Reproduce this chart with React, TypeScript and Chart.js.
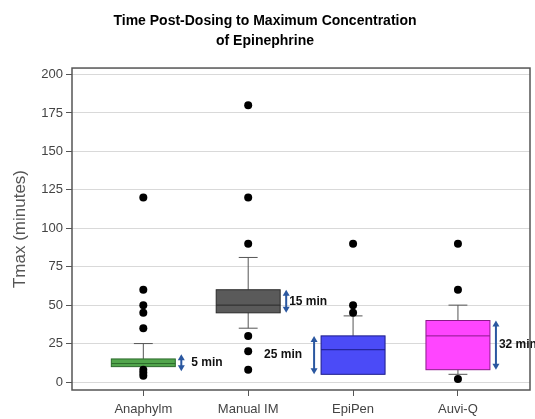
import React, { useEffect, useRef } from "react";
import { Chart, registerables } from "chart.js";

Chart.register(...registerables);

// ---- data ----
const titleLines = ["Time Post-Dosing to Maximum Concentration", "of Epinephrine"];
const yAxisTitle = "Tmax (minutes)";
const categories = ["Anaphylm", "Manual IM", "EpiPen", "Auvi-Q"];
const whiskerLow = [10, 35, 5, 5];
const q1 = [10, 45, 5, 8];
const median = [12, 50, 21, 30];
const q3 = [15, 60, 30, 40];
const whiskerHigh = [25, 81, 43, 50];
const outliersAnaphylm = [120, 60, 50, 45, 35, 8, 6, 4];
const outliersManualIM = [180, 120, 90, 30, 20, 8];
const outliersEpiPen = [90, 50, 45];
const outliersAuviQ = [90, 60, 2];
const iqrLabels = ["5 min", "15 min", "25 min", "32 min"];
const yTicks = [0, 25, 50, 75, 100, 125, 150, 175, 200];

// ---- styles ----
const FONT = "'Liberation Sans', Arial, Helvetica, sans-serif";
const boxFill = ["#52a64c", "#5a5a5a", "#4b4bf7", "#ff45ff"];
const boxStroke = ["#2c6a2c", "#2a2a2a", "#1c1c8a", "#8a1a8a"];
const arrowColor = "#2a57a0";
const labelSide = ["right", "right", "left", "right"];
const labelGap = [10, 3, 12, 3];

export default function App() {
  const ref = useRef<HTMLCanvasElement>(null);

  useEffect(() => {
    const canvas = ref.current;
    if (!canvas) return;

    const allOutliers = [outliersAnaphylm, outliersManualIM, outliersEpiPen, outliersAuviQ];
    const points: { x: number; y: number }[] = [];
    allOutliers.forEach((arr, i) => arr.forEach((v) => points.push({ x: i, y: v })));

    const boxHalf = 0.305;
    const capHalf = 0.09;

    const boxPlugin = {
      id: "boxes",
      beforeDatasetsDraw(chart: any) {
        const { ctx, scales } = chart;
        const x = scales.x;
        const y = scales.y;
        ctx.save();
        categories.forEach((_, i) => {
          const cx = x.getPixelForValue(i);
          const hw = x.getPixelForValue(i + boxHalf) - cx;
          const cw = x.getPixelForValue(i + capHalf) - cx;
          const pQ1 = y.getPixelForValue(q1[i]);
          const pQ3 = y.getPixelForValue(q3[i]);
          const pMed = y.getPixelForValue(median[i]);
          const pLo = y.getPixelForValue(whiskerLow[i]);
          const pHi = y.getPixelForValue(whiskerHigh[i]);
          // whiskers
          ctx.strokeStyle = "#555";
          ctx.lineWidth = 1;
          ctx.beginPath();
          if (whiskerHigh[i] > q3[i]) {
            ctx.moveTo(cx, pQ3);
            ctx.lineTo(cx, pHi);
            ctx.moveTo(cx - cw, pHi);
            ctx.lineTo(cx + cw, pHi);
          }
          if (whiskerLow[i] < q1[i]) {
            ctx.moveTo(cx, pQ1);
            ctx.lineTo(cx, pLo);
            ctx.moveTo(cx - cw, pLo);
            ctx.lineTo(cx + cw, pLo);
          }
          ctx.stroke();
          // box
          ctx.fillStyle = boxFill[i];
          ctx.fillRect(cx - hw, pQ3, hw * 2, pQ1 - pQ3);
          ctx.strokeStyle = boxStroke[i];
          ctx.lineWidth = 1;
          ctx.strokeRect(cx - hw, pQ3, hw * 2, pQ1 - pQ3);
          // median
          ctx.beginPath();
          ctx.moveTo(cx - hw, pMed);
          ctx.lineTo(cx + hw, pMed);
          ctx.stroke();
        });
        ctx.restore();
      },
      afterDatasetsDraw(chart: any) {
        const { ctx, scales } = chart;
        const x = scales.x;
        const y = scales.y;
        ctx.save();
        categories.forEach((_, i) => {
          const cx = x.getPixelForValue(i);
          const hw = x.getPixelForValue(i + boxHalf) - cx;
          let top = y.getPixelForValue(q3[i]);
          let bot = y.getPixelForValue(q1[i]);
          const minLen = 17;
          if (bot - top < minLen) {
            const mid = (top + bot) / 2;
            top = mid - minLen / 2;
            bot = mid + minLen / 2;
          }
          const right = labelSide[i] === "right";
          const ax = right ? cx + hw + 6 : cx - hw - 7;
          const hh = 5;
          const hwid = 3.5;
          ctx.strokeStyle = arrowColor;
          ctx.fillStyle = arrowColor;
          ctx.lineWidth = 2;
          ctx.beginPath();
          ctx.moveTo(ax, top + hh);
          ctx.lineTo(ax, bot - hh);
          ctx.stroke();
          ctx.beginPath();
          ctx.moveTo(ax, top);
          ctx.lineTo(ax - hwid, top + hh + 1);
          ctx.lineTo(ax + hwid, top + hh + 1);
          ctx.closePath();
          ctx.fill();
          ctx.beginPath();
          ctx.moveTo(ax, bot);
          ctx.lineTo(ax - hwid, bot - hh - 1);
          ctx.lineTo(ax + hwid, bot - hh - 1);
          ctx.closePath();
          ctx.fill();
          ctx.fillStyle = "#111";
          ctx.font = `bold 12px ${FONT}`;
          ctx.textBaseline = "middle";
          ctx.textAlign = right ? "left" : "right";
          const tx = right ? ax + labelGap[i] : ax - labelGap[i];
          ctx.fillText(iqrLabels[i], tx, (top + bot) / 2);
        });
        ctx.restore();
      },
      afterDraw(chart: any) {
        const { ctx, chartArea } = chart;
        ctx.save();
        ctx.strokeStyle = "#555";
        ctx.lineWidth = 1.5;
        ctx.strokeRect(
          chartArea.left,
          chartArea.top,
          chartArea.right - chartArea.left,
          chartArea.bottom - chartArea.top
        );
        ctx.restore();
      },
    };

    const chart = new Chart(canvas, {
      type: "scatter",
      data: {
        datasets: [
          {
            data: points,
            pointRadius: 4,
            pointBackgroundColor: "#000",
            pointBorderWidth: 0,
            borderWidth: 0,
          },
        ],
      },
      options: {
        animation: false,
        responsive: false,
        events: [],
        layout: { padding: { left: 0, right: 5, top: 0, bottom: 0 } },
        plugins: {
          legend: { display: false },
          tooltip: { enabled: false },
          title: {
            display: true,
            text: titleLines,
            color: "#000",
            font: { family: FONT, size: 14, weight: "bold", lineHeight: 1.43 },
            padding: { top: 11, bottom: 17 },
          },
        },
        scales: {
          x: {
            type: "linear",
            min: -0.68,
            max: 3.687,
            afterBuildTicks: (s: any) => {
              s.ticks = categories.map((_, i) => ({ value: i }));
            },
            afterFit: (s: any) => {
              s.height = 29;
            },
            ticks: {
              callback: (_v: any, idx: number) => categories[idx],
              font: { family: FONT, size: 13 },
              color: "#444",
              padding: 6,
              autoSkip: false,
              maxRotation: 0,
            },
            grid: { drawOnChartArea: false, drawTicks: true, tickLength: 6, tickColor: "#555" },
            border: { display: false },
          },
          y: {
            type: "linear",
            min: -5.2,
            max: 204.2,
            afterBuildTicks: (s: any) => {
              s.ticks = yTicks.map((v) => ({ value: v }));
            },
            afterFit: (s: any) => {
              s.width = 72;
            },
            ticks: {
              font: { family: FONT, size: 13 },
              color: "#444",
              padding: 3,
            },
            grid: { color: "#d9d9d9", tickColor: "#555", tickLength: 6, lineWidth: 1 },
            border: { display: false },
            title: {
              display: true,
              text: yAxisTitle,
              color: "#555",
              font: { family: FONT, size: 17 },
              padding: { top: 10, bottom: 0 },
            },
          },
        },
      } as any,
      plugins: [boxPlugin],
    });

    return () => chart.destroy();
  }, []);

  return (
    <div style={{ position: "fixed", left: 0, top: 0, width: 535, height: 419, background: "#fff" }}>
      <canvas ref={ref} width={535} height={419} style={{ width: 535, height: 419, display: "block" }} />
    </div>
  );
}
